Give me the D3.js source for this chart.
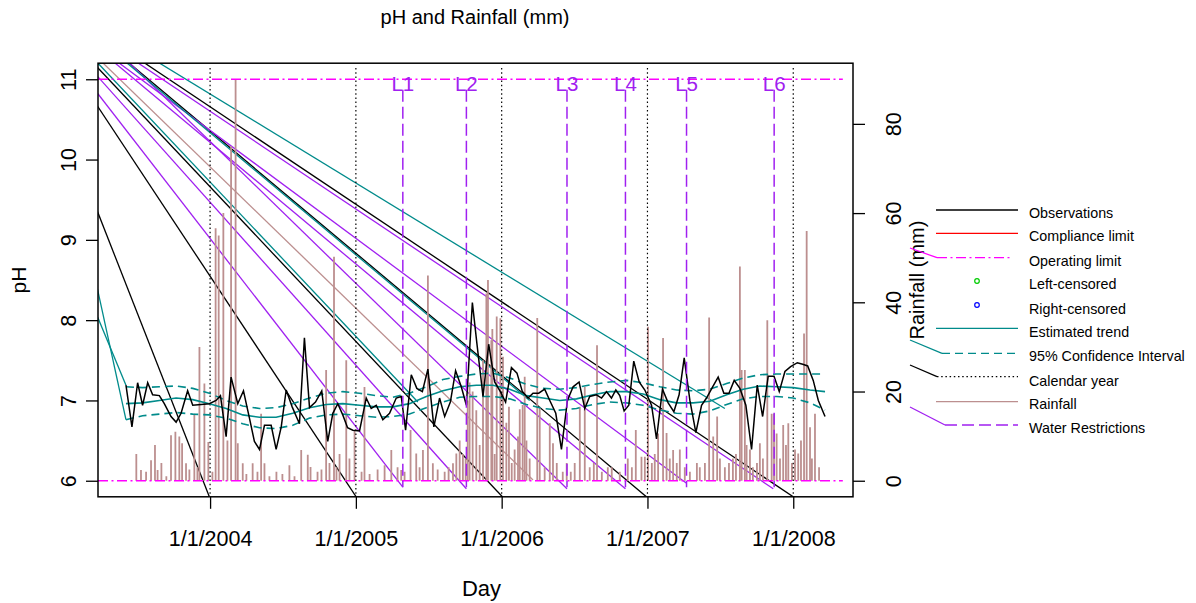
<!DOCTYPE html>
<html><head><meta charset="utf-8">
<script src="https://cdn.jsdelivr.net/npm/d3@7/dist/d3.min.js"></script>
<style>body{margin:0;background:#fff}svg{display:block;font-family:"Liberation Sans",Arial,sans-serif}</style>
</head><body><svg id="c" width="1196" height="603"></svg>
<script>
// ---------------- data ----------------
const obsYears=[2003.423,2003.464,2003.503,2003.537,2003.572,2003.606,2003.652,2003.686,2003.732,2003.767,2003.801,2003.846,2003.881,2003.938,2003.995,2004.041,2004.071,2004.110,2004.144,2004.190,2004.229,2004.270,2004.304,2004.339,2004.373,2004.419,2004.453,2004.488,2004.522,2004.563,2004.613,2004.647,2004.682,2004.723,2004.766,2004.807,2004.842,2004.876,2004.910,2004.943,2004.979,2005.025,2005.071,2005.105,2005.140,2005.185,2005.231,2005.277,2005.311,2005.341,2005.380,2005.418,2005.456,2005.494,2005.535,2005.574,2005.609,2005.648,2005.684,2005.723,2005.758,2005.799,2005.830,2005.872,2005.911,2005.952,2005.991,2006.027,2006.067,2006.105,2006.142,2006.181,2006.215,2006.254,2006.295,2006.330,2006.371,2006.410,2006.451,2006.490,2006.531,2006.570,2006.604,2006.650,2006.685,2006.719,2006.753,2006.783,2006.810,2006.840,2006.872,2006.906,2006.943,2006.982,2007.028,2007.062,2007.103,2007.142,2007.181,2007.217,2007.252,2007.291,2007.332,2007.371,2007.405,2007.447,2007.485,2007.524,2007.559,2007.595,2007.634,2007.675,2007.714,2007.753,2007.790,2007.828,2007.868,2007.904,2007.943,2007.982,2008.028,2008.065,2008.099,2008.137,2008.172,2008.218];
const obsPH=[7.19,6.67,7.22,6.94,7.22,7.07,7.06,6.96,6.80,6.73,6.84,7.12,6.94,6.95,6.96,7.00,7.06,6.55,7.29,6.96,7.12,6.78,6.49,6.39,6.69,6.69,6.39,6.67,7.13,6.92,6.71,7.78,6.91,6.98,7.12,6.49,6.84,6.96,6.82,6.66,6.63,6.62,7.03,6.90,6.94,6.76,6.84,7.03,7.05,6.63,7.32,7.15,7.11,7.39,6.67,7.03,6.80,6.98,7.37,7.17,6.94,8.22,7.71,7.05,7.70,7.23,7.11,6.98,7.41,7.34,7.11,7.03,7.09,7.09,7.14,7.00,6.84,6.39,7.00,7.17,7.23,6.90,7.05,7.07,7.03,7.11,7.03,7.13,7.06,6.87,6.94,7.49,7.23,7.13,6.94,6.52,7.14,6.97,6.86,7.07,7.53,7.00,6.60,6.94,7.03,7.17,7.29,7.09,7.09,7.25,7.15,6.94,6.39,7.19,6.80,7.30,7.30,7.11,7.36,7.42,7.47,7.45,7.43,7.25,7.00,6.80];

const trendYears=[2003.423,2003.537,2003.652,2003.767,2003.881,2003.995,2004.110,2004.224,2004.339,2004.453,2004.567,2004.682,2004.796,2004.910,2005.025,2005.140,2005.254,2005.368,2005.483,2005.597,2005.712,2005.826,2005.940,2006.055,2006.170,2006.284,2006.398,2006.513,2006.627,2006.742,2006.856,2006.970,2007.085,2007.199,2007.313,2007.428,2007.543,2007.657,2007.771,2007.886,2008.000,2008.115,2008.218];
const trendPH=[6.96,6.97,7.00,7.03,7.01,6.96,6.90,6.82,6.79,6.79,6.84,6.91,6.95,6.96,6.94,6.92,6.92,6.96,7.05,7.12,7.17,7.19,7.19,7.14,7.06,7.03,7.00,7.02,7.07,7.11,7.11,7.08,7.01,6.97,6.97,6.99,7.07,7.14,7.18,7.17,7.16,7.13,7.11];
const ciUpper=[7.17,7.16,7.17,7.18,7.15,7.09,7.00,6.93,6.90,6.91,6.96,7.03,7.09,7.11,7.09,7.06,7.04,7.09,7.17,7.26,7.30,7.33,7.34,7.28,7.20,7.15,7.14,7.16,7.20,7.23,7.25,7.22,7.17,7.13,7.12,7.14,7.21,7.28,7.32,7.33,7.33,7.33,7.33];
const ciLower=[6.76,6.81,6.83,6.85,6.83,6.82,6.78,6.71,6.66,6.65,6.69,6.78,6.82,6.83,6.81,6.79,6.80,6.83,6.91,6.98,7.04,7.05,7.05,7.02,6.95,6.90,6.88,6.90,6.95,6.98,6.97,6.94,6.88,6.84,6.83,6.87,6.95,7.02,7.05,7.05,7.03,6.97,6.88];

const rainYears=[2003.494,2003.526,2003.561,2003.595,2003.622,2003.640,2003.666,2003.700,2003.732,2003.762,2003.789,2003.808,2003.835,2003.858,2003.892,2003.913,2003.927,2003.961,2003.988,2004.016,2004.038,2004.059,2004.091,2004.119,2004.144,2004.175,2004.190,2004.224,2004.249,2004.292,2004.325,2004.350,2004.373,2004.407,2004.455,2004.496,2004.544,2004.579,2004.625,2004.670,2004.689,2004.737,2004.764,2004.796,2004.819,2004.850,2004.867,2004.888,2004.934,2004.956,2004.991,2005.039,2005.059,2005.094,2005.149,2005.197,2005.243,2005.286,2005.311,2005.334,2005.375,2005.414,2005.437,2005.460,2005.494,2005.528,2005.561,2005.609,2005.636,2005.666,2005.689,2005.712,2005.734,2005.753,2005.767,2005.780,2005.801,2005.826,2005.849,2005.872,2005.895,2005.906,2005.929,2005.936,2005.952,2005.966,2005.991,2006.009,2006.032,2006.050,2006.069,2006.089,2006.112,2006.124,2006.144,2006.158,2006.170,2006.192,2006.244,2006.261,2006.295,2006.330,2006.352,2006.378,2006.419,2006.446,2006.474,2006.501,2006.536,2006.570,2006.604,2006.632,2006.654,2006.687,2006.728,2006.755,2006.810,2006.865,2006.893,2006.920,2006.959,2006.982,2007.004,2007.030,2007.050,2007.073,2007.107,2007.131,2007.153,2007.176,2007.201,2007.222,2007.256,2007.291,2007.339,2007.359,2007.394,2007.423,2007.451,2007.478,2007.497,2007.531,2007.559,2007.586,2007.607,2007.634,2007.646,2007.668,2007.680,2007.703,2007.723,2007.751,2007.771,2007.792,2007.822,2007.852,2007.868,2007.886,2007.909,2007.931,2007.950,2007.966,2007.991,2008.012,2008.034,2008.053,2008.074,2008.092,2008.115,2008.128,2008.149,2008.177];
const rainMM=[6,2.4,2,4.6,8,2.4,4,1,10.2,11,9.9,8.4,3.9,2.5,15,3,30,21.8,8.7,2,56.6,55,60,9,75,90,8.4,3.9,1.5,3.9,2,15,3.9,1,2,1.5,3.5,1,6.9,5.8,3.1,2,2.5,24.8,4,50.2,3,6,27,5,11.4,2,21,1.5,2.5,3.5,6.9,3,2.4,2,11.4,6.1,3,6.9,46,3.9,2.5,2,3,3.9,6.1,9,6,5,18,22,20,15.8,8,27,42,45,31.5,34,6,36.8,36.4,27.8,13,16.6,4,7,9.9,16,17,23.3,9,5,36.5,16.6,3,12.9,8.4,4,2,4,2,4,16.6,21,3,4,30.4,2,3,3,2,5,3,11.4,5.4,5.4,34.5,4,6,10.6,32,10.7,5,6.9,4,7,3,2,4,3,4,36.6,9.9,14.4,5,3,4,5,6,48,24.8,24.8,8,7,3,4,8.4,5,36,15,15,10.6,5,12.5,8,12.9,4,7,6.1,9,33,56,12,5,15,3];

const yearTicks=[2004,2005,2006,2007,2008];
const yearTickLabels=["1/1/2004","1/1/2005","1/1/2006","1/1/2007","1/1/2008"];
const phTicks=[6,7,8,9,10,11];
const rainTicks=[0,20,40,60,80];
const phLimits=[6,11];
const rainLimits=[0,90];
const operatingLimits=[6,11];
const restrictionYears=[2005.322,2005.758,2006.448,2006.849,2007.268,2007.869];
const restrictionLabels=["L1","L2","L3","L4","L5","L6"];

// stray diagonal line artefacts (start year, start pH, end year, end pH, series)
const strayStartYear=[2003.226,2003.226,2003.226,2003.439,2003.545,2003.226,2003.226,2003.443,2003.370,2003.343,2003.500,2003.261,2003.645,2003.226,2003.425,2003.226,2003.226];
const strayStartPH=[9.36,10.67,11.15,11.21,11.21,10.83,11.04,11.21,11.21,11.21,11.21,11.21,11.21,11.21,11.21,8.40,8.05];
const strayEndYear=[2003.995,2005.002,2006.005,2006.993,2008.000,2005.322,2005.758,2006.448,2007.268,2006.849,2007.863,2006.215,2007.531,2005.425,2006.192,2003.423,2003.423];
const strayEndPH=[5.80,5.80,5.80,5.80,5.80,5.92,5.90,5.90,5.97,5.90,5.90,6.01,6.90,6.98,7.00,6.76,7.19];
const straySeries=["year","year","year","year","year","restr","restr","restr","restr","restr","restr","rain","trend","trend","trend","trend","trend"];

const legendLabels=["Observations","Compliance limit","Operating limit","Left-censored","Right-censored","Estimated trend","95% Confidence Interval","Calendar year","Rainfall","Water Restrictions"];

// ---------------- styles ----------------
const COL={obs:"#000",comp:"#ff0000",oper:"#ff00ff",left:"#00cc00",right:"#0000ff",trend:"#008b8b",year:"#000",rain:"#bc8f8f",restr:"#a020f0"};

const svg=d3.select("#c");
const L=98,R=853,T=63.2,B=496.8;
const ext=d3.extent(obsYears), sp=ext[1]-ext[0];
const x=d3.scaleLinear().domain([ext[0]-0.04*sp,ext[1]+0.04*sp]).range([L,R]);
const pr=phLimits[1]-phLimits[0];
const y=d3.scaleLinear().domain([phLimits[0]-0.04*pr,phLimits[1]+0.04*pr]).range([B,T]);
const rr=rainLimits[1]-rainLimits[0];
const yr=d3.scaleLinear().domain([rainLimits[0]-0.04*rr,rainLimits[1]+0.04*rr]).range([B,T]);

svg.append("defs").append("clipPath").attr("id","pc").append("rect")
  .attr("x",L).attr("y",T).attr("width",R-L).attr("height",B-T);
const g=svg.append("g").attr("clip-path","url(#pc)");

// stray lines
g.selectAll(".stray").data(strayStartYear.map((d,i)=>i)).join("line")
  .attr("x1",i=>x(strayStartYear[i])).attr("y1",i=>y(strayStartPH[i]))
  .attr("x2",i=>x(strayEndYear[i])).attr("y2",i=>y(strayEndPH[i]))
  .attr("stroke",i=>COL[straySeries[i]]).attr("stroke-width",1.3);

// rainfall
g.selectAll(".rain").data(rainYears.map((d,i)=>i)).join("line")
  .attr("x1",i=>x(rainYears[i])).attr("x2",i=>x(rainYears[i]))
  .attr("y1",yr(0)).attr("y2",i=>yr(rainMM[i]))
  .attr("stroke",COL.rain).attr("stroke-width",1.8);

// calendar year lines
g.selectAll(".yr").data(yearTicks).join("line")
  .attr("x1",d=>x(d)).attr("x2",d=>x(d)).attr("y1",y(11.14)).attr("y2",B)
  .attr("stroke",COL.year).attr("stroke-width",1.2).attr("stroke-dasharray","1.5,2.7");

// operating limits
g.selectAll(".op").data(operatingLimits).join("line")
  .attr("x1",L).attr("x2",x(2008.34)).attr("y1",d=>y(d)).attr("y2",d=>y(d))
  .attr("stroke",COL.oper).attr("stroke-width",1.3).attr("stroke-dasharray","10,3.5,2,3.5");

// trend + CI
const ln=arr=>d3.line().x((d,i)=>x(trendYears[i])).y((d)=>y(d))(arr);
g.append("path").attr("d",ln(ciUpper)).attr("fill","none").attr("stroke",COL.trend).attr("stroke-width",1.6).attr("stroke-dasharray","8,5");
g.append("path").attr("d",ln(ciLower)).attr("fill","none").attr("stroke",COL.trend).attr("stroke-width",1.6).attr("stroke-dasharray","8,5");
g.append("path").attr("d",ln(trendPH)).attr("fill","none").attr("stroke",COL.trend).attr("stroke-width",1.6);

// observations
g.append("path").attr("d",d3.line().x((d,i)=>x(obsYears[i])).y(d=>y(d))(obsPH))
  .attr("fill","none").attr("stroke",COL.obs).attr("stroke-width",1.5);

// water restrictions
g.selectAll(".wr").data(restrictionYears).join("line")
  .attr("x1",d=>x(d)).attr("x2",d=>x(d)).attr("y1",y(10.87)).attr("y2",y(5.92))
  .attr("stroke",COL.restr).attr("stroke-width",1.5).attr("stroke-dasharray","12,5");
svg.selectAll(".wrl").data(restrictionYears).join("text")
  .attr("x",d=>x(d)).attr("y",y(10.87)+1).attr("text-anchor","middle")
  .attr("fill",COL.restr).attr("font-size",20.5).text((d,i)=>restrictionLabels[i]);

// box
svg.append("rect").attr("x",L).attr("y",T).attr("width",R-L).attr("height",B-T)
  .attr("fill","none").attr("stroke","#000").attr("stroke-width",1.5);

// axes
const fs=20, tfs=21.5;
const ax=svg.append("g").attr("transform",`translate(0,${B})`)
  .call(d3.axisBottom(x).tickValues(yearTicks).tickFormat((d,i)=>yearTickLabels[i]).tickSize(12).tickPadding(22));
ax.select(".domain").remove();
ax.selectAll("line").attr("stroke-width",1.3);
ax.selectAll("text").attr("font-size",tfs).attr("font-family","Liberation Sans, Arial").attr("fill","#000");

const ay=svg.append("g").attr("transform",`translate(${L},0)`)
  .call(d3.axisLeft(y).tickValues(phTicks).tickFormat(d3.format("d")).tickSize(12));
ay.select(".domain").remove();
ay.selectAll("line").attr("stroke-width",1.3);
ay.selectAll("text").attr("x",null).attr("dy","0.35em").attr("text-anchor","middle")
  .attr("transform","translate(-30,0) rotate(-90)").attr("font-size",tfs).attr("font-family","Liberation Sans, Arial").attr("fill","#000");

const ar=svg.append("g").attr("transform",`translate(${R},0)`)
  .call(d3.axisRight(yr).tickValues(rainTicks).tickFormat(d3.format("d")).tickSize(12));
ar.select(".domain").remove();
ar.selectAll("line").attr("stroke-width",1.3);
ar.selectAll("text").attr("x",null).attr("dy","0.35em").attr("text-anchor","middle")
  .attr("transform","translate(40,0) rotate(-90)").attr("font-size",tfs).attr("font-family","Liberation Sans, Arial").attr("fill","#000");

// titles
svg.append("text").attr("x",475).attr("y",24).attr("text-anchor","middle").attr("font-size",fs).text("pH and Rainfall (mm)");
svg.append("text").attr("x",(L+R)/2+6).attr("y",596).attr("text-anchor","middle").attr("font-size",22).text("Day");
svg.append("text").attr("transform",`translate(26,${(T+B)/2}) rotate(-90)`).attr("text-anchor","middle").attr("font-size",21).text("pH");
svg.append("text").attr("transform",`translate(924,280) rotate(-90)`).attr("text-anchor","middle").attr("font-size",fs).text("Rainfall (mm)");

// legend
const lg=svg.append("g");
const rowY=[210,233.3,257.7,281,305,328.3,353.3,376.7,401.7,425];
const textY=[213.3,235.5,261,283.7,309,332,356,380.7,404,428];
const lx0=936,lx1=1018;
lg.selectAll("text").data(legendLabels).join("text").attr("x",1029).attr("y",(d,i)=>textY[i]+5)
  .attr("font-size",14.3).text(d=>d);
const seg=(i,col,dash,xa=lx0,xb=lx1)=>lg.append("line").attr("x1",xa).attr("x2",xb).attr("y1",rowY[i]).attr("y2",rowY[i])
  .attr("stroke",col).attr("stroke-width",1.3).attr("stroke-dasharray",dash);
seg(0,COL.obs,null);
seg(1,COL.comp,null);
seg(2,COL.oper,"10,3.5,2,3.5",937,1012);
lg.append("circle").attr("cx",977).attr("cy",rowY[3]).attr("r",2.3).attr("fill","none").attr("stroke",COL.left).attr("stroke-width",1.2);
lg.append("circle").attr("cx",977).attr("cy",rowY[4]).attr("r",2.3).attr("fill","none").attr("stroke",COL.right).attr("stroke-width",1.2);
seg(5,COL.trend,null);
seg(6,COL.trend,"8,5",942,1018);
seg(7,COL.year,"1.5,2.7",937,1018);
seg(8,COL.rain,null);
seg(9,COL.restr,"12,5",945,1018);
// legend key stubs
const stub=(x1,y1,x2,y2,col)=>lg.append("line").attr("x1",x1).attr("y1",y1).attr("x2",x2).attr("y2",y2).attr("stroke",col).attr("stroke-width",1.3);
stub(910,248,937,rowY[2],COL.oper);
stub(910,340,942,rowY[6],COL.trend);
stub(910,365,937,rowY[7],COL.year);
stub(910,407,945,rowY[9],COL.restr);
</script></body></html>
